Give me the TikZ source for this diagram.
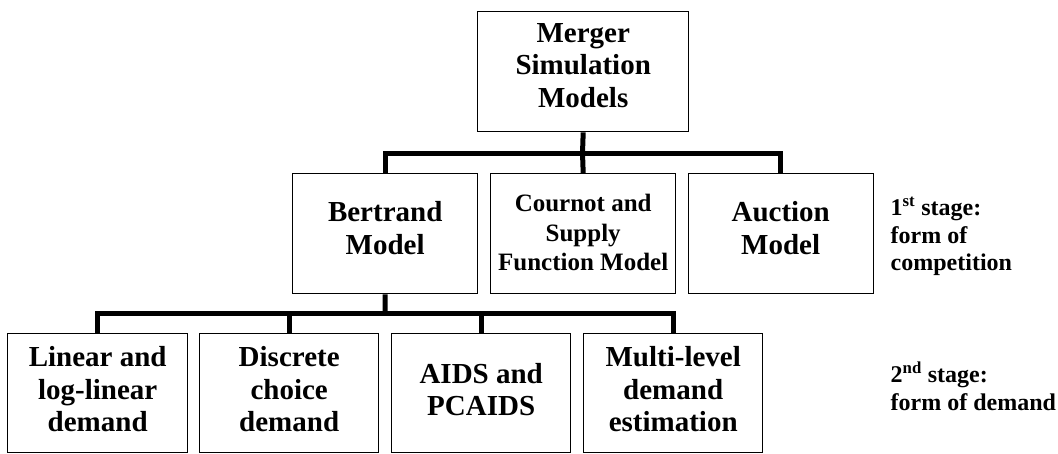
\documentclass[tikz,border=0pt]{standalone}
\usepackage{fontspec}
\setmainfont{Liberation Serif}
\begin{document}
\begin{tikzpicture}[x=1pt,y=-1pt,
  box/.style={draw, line width=1.4pt, inner sep=0pt, align=center, anchor=north west,
    text depth=10pt, font=\bfseries\fontsize{29}{32.5}\selectfont},
  smallbox/.style={box, text depth=2pt, font=\bfseries\fontsize{25}{29.5}\selectfont},
  conn/.style={line width=5pt},
  stagelabel/.style={inner sep=0pt, align=left, anchor=base west,
    font=\bfseries\fontsize{24}{27.5}\selectfont}]
\useasboundingbox (0,0) rectangle (1058,453);
% top
\node[box, text depth=13pt, minimum width=211pt, minimum height=120pt] (ms) at (477,11) {Merger\\Simulation\\Models};
% first stage
\node[box, text depth=12pt, minimum width=185pt, minimum height=120pt] (bert) at (292,173) {Bertrand\\Model};
\node[smallbox, minimum width=185pt, minimum height=120pt] (cour) at (490,173) {Cournot and\\Supply\\Function Model};
\node[box, text depth=12pt, minimum width=185pt, minimum height=120pt] (auc) at (687.5,173) {Auction\\Model};
% second stage
\node[box, text depth=8pt, minimum width=180pt, minimum height=119pt] (lin) at (7,333) {Linear and\\log-linear\\demand};
\node[box, text depth=8pt, minimum width=179pt, minimum height=119pt] (disc) at (199,333) {Discrete\\choice\\demand};
\node[box, text depth=8pt, minimum width=179pt, minimum height=119pt] (aids) at (391,333) {AIDS and\\PCAIDS};
\node[box, text depth=8pt, minimum width=179pt, minimum height=119pt] (multi) at (583,333) {Multi-level\\demand\\estimation};
% labels
\node[stagelabel] (s1) at (890.5,270.7) {1\textsuperscript{st} stage:\\form of\\competition};
\node[stagelabel] (s2) at (890.5,410) {2\textsuperscript{nd} stage:\\form of demand};
% connectors
\coordinate (bus1) at (582.5,153);
\coordinate (bus2) at (385,313);
\draw[conn] (bert.north) |- (bus1) -| (auc.north);
\draw[conn] (ms.south) -- (bus1);
\draw[conn] (cour.north) -- (bus1);
\draw[conn] (lin.north) |- (bus2) -| (multi.north);
\draw[conn] (bert.south) -- (bus2);
\draw[conn] (disc.north) -- (disc.north |- bus2);
\draw[conn] (aids.north) -- (aids.north |- bus2);
\end{tikzpicture}
\end{document}
